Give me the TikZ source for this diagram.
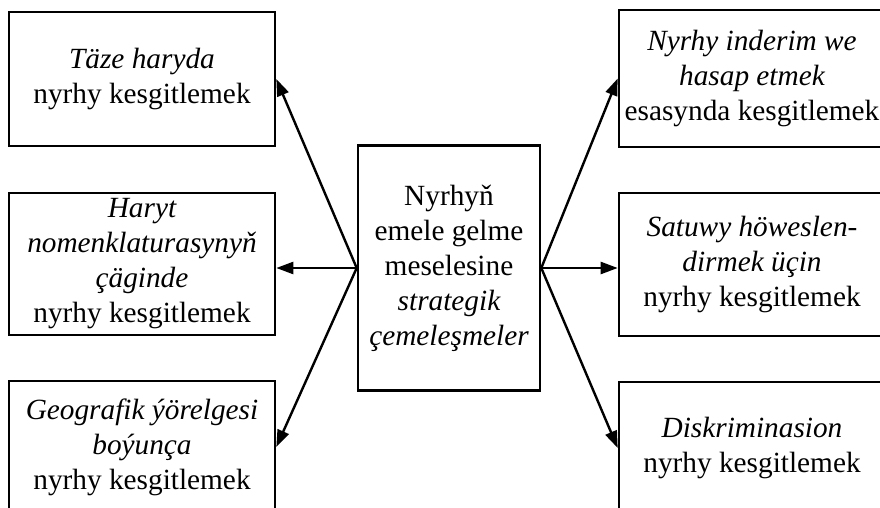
\documentclass[tikz,border=0pt]{standalone}
\usepackage{fontspec}
\setmainfont{Liberation Serif}
\usepackage{tikz}
\usetikzlibrary{arrows.meta}
\tikzset{
	bigbox/.style={
		draw, rectangle, line width=2.6pt,
		minimum width=266pt, minimum height=134pt,
		inner sep=2pt, align=center, text=black,
		font=\fontsize{29.3pt}{35pt}\selectfont
	},
	midbox/.style={
		bigbox, minimum width=182pt, minimum height=245pt
	},
	pointer/.style={-{Triangle[length=17pt,width=12pt]}, line width=2.4pt}
}

\begin{document}
\begin{tikzpicture}[x=1pt,y=-1pt]
				\useasboundingbox (0,0) rectangle (880,508);
				\clip (0,0) rectangle (880,508);
				\node[midbox] (mid) at (449,268) {Nyrhyň\\emele gelme\\meselesine\\{\itshape strategik}\\{\itshape çemeleşmeler}};
				\node[bigbox] (tl) at (142,79) {{\itshape Täze haryda}\\nyrhy kesgitlemek};
				\node[bigbox, minimum height=142pt] (ml) at (142,264) {{\itshape Haryt}\\{\itshape nomenklaturasynyň}\\{\itshape çäginde}\\nyrhy kesgitlemek};
				\node[bigbox, minimum height=132pt] (bl) at (142,447) {{\itshape Geografik ýörelgesi}\\{\itshape boýunça}\\nyrhy kesgitlemek};
				\node[bigbox, minimum height=137pt] (tr) at (752,78.5) {{\itshape Nyrhy inderim we}\\{\itshape hasap etmek}\\esasynda kesgitlemek};
				\node[bigbox, minimum height=143pt] (mr) at (752,264.5) {{\itshape Satuwy höweslen-}\\{\itshape dirmek üçin}\\nyrhy kesgitlemek};
				\node[bigbox, minimum height=132pt] (br) at (752,448) {{\itshape Diskriminasion}\\nyrhy kesgitlemek};
				\draw[pointer] (mid.west) -- (tl.east);
				\draw[pointer] (mid.west) -- (mid.west -| ml.east);
				\draw[pointer] (mid.west) -- (bl.east);
				\draw[pointer] (mid.east) -- (tr.west);
				\draw[pointer] (mid.east) -- (mid.east -| mr.west);
				\draw[pointer] (mid.east) -- (br.west);
			\end{tikzpicture}
\end{document}
